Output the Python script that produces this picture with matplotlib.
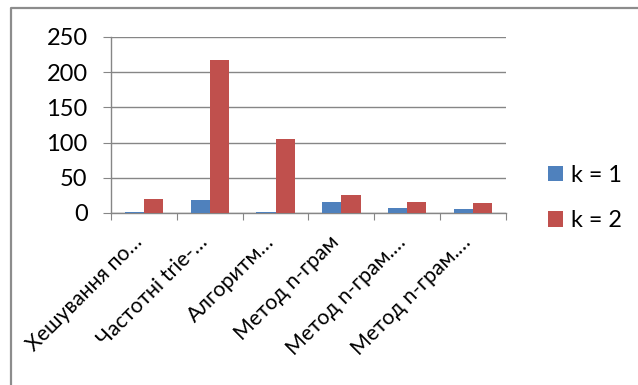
import matplotlib
matplotlib.use("Agg")
import matplotlib.pyplot as plt
from matplotlib.lines import Line2D
import matplotlib.transforms as mtransforms
import numpy as np

categories = ["Хешування по…", "Частотні trie-…", "Алгоритм…", "Метод n-грам",
              "Метод n-грам.…", "Метод n-грам.…"]
k1 = [2, 19, 1, 16, 7, 6]
k2 = [20, 217, 105, 26, 16, 14]
series_labels = ["k = 1", "k = 2"]
yticks = [0, 50, 100, 150, 200, 250]

plt.rcParams['font.family'] = ['Lato', 'DejaVu Sans']

W, H = 638, 385
fig = plt.figure(figsize=(W / 100, H / 100), dpi=100)
ax = fig.add_axes([111 / W, 1 - 213 / H, (506 - 111) / W, (213 - 37) / H])

x = np.arange(len(categories))
bw = 0.29
grid_c = "#868686"
b1 = ax.bar(x - bw / 2, k1, bw, color="#4F81BD", label=series_labels[0], zorder=3)
b2 = ax.bar(x + bw / 2, k2, bw, color="#C0504D", label=series_labels[1], zorder=3)

ax.set_xlim(-0.5, len(categories) - 0.5)
ax.set_ylim(0, 250)
ax.set_yticks(yticks)
ax.set_yticklabels([str(v) for v in yticks], fontsize=17, color="black")
ax.yaxis.grid(True, color=grid_c, linewidth=1, zorder=0)
ax.tick_params(axis='y', length=5.8, color=grid_c, pad=11)

ax.set_xticks(np.arange(-0.5, len(categories), 1.0), minor=False)
ax.set_xticklabels([])
ax.tick_params(axis='x', length=5, color=grid_c, direction='out')
ax.set_xticks(x, minor=True)
ax.set_xticklabels(categories, minor=True, rotation=45, ha='right', va='center',
                   rotation_mode='anchor', fontsize=15.3, color="black")
ax.tick_params(axis='x', which='minor', length=0, pad=15)
offset = mtransforms.ScaledTranslation(-5 / 100, -5 / 100, fig.dpi_scale_trans)
for lab in ax.get_xticklabels(minor=True):
    lab.set_transform(lab.get_transform() + offset)

for s in ['top', 'right']:
    ax.spines[s].set_visible(False)
for s in ['left', 'bottom']:
    ax.spines[s].set_color(grid_c)
    ax.spines[s].set_linewidth(1)

leg = fig.legend(handles=[b1, b2], labels=series_labels, loc='upper left',
                 bbox_to_anchor=(529 / W, 1 - 146 / H), frameon=False,
                 fontsize=16.8, handlelength=0.66, handleheight=0.66,
                 handletextpad=0.35, labelspacing=1.05, borderpad=0.3)

# chart border
fig.add_artist(Line2D([10.5 / W, 10.5 / W, 1.0], [0.0, 1 - 8 / H, 1 - 8 / H],
                      transform=fig.transFigure, color="#8C8C8C", linewidth=1.6))

fig.savefig("out.png", dpi=100)
